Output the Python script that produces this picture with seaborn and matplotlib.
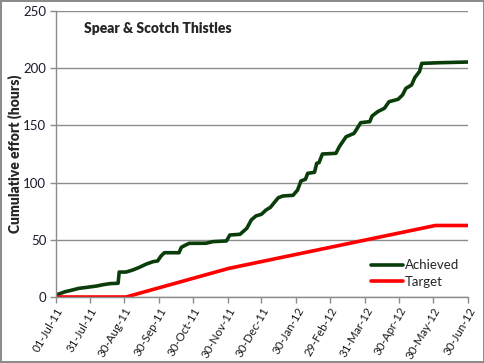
import matplotlib
matplotlib.use("Agg")
import matplotlib.pyplot as plt
import pandas as pd
import seaborn as sns

achieved_dates = ["2011-07-01", "2011-07-09", "2011-07-13", "2011-07-21", "2011-07-28",
                  "2011-08-06", "2011-08-12", "2011-08-18", "2011-08-25", "2011-08-26",
                  "2011-09-01", "2011-09-07", "2011-09-13", "2011-09-19", "2011-09-25",
                  "2011-09-29", "2011-10-02", "2011-10-05", "2011-10-18", "2011-10-20",
                  "2011-10-24", "2011-10-27", "2011-11-11", "2011-11-17", "2011-11-29",
                  "2011-12-02", "2011-12-11", "2011-12-17", "2011-12-21", "2011-12-25",
                  "2011-12-30", "2012-01-03", "2012-01-07", "2012-01-11", "2012-01-14",
                  "2012-01-18", "2012-01-27", "2012-01-31", "2012-02-03", "2012-02-07",
                  "2012-02-09", "2012-02-15", "2012-02-17", "2012-02-19", "2012-02-22",
                  "2012-03-05", "2012-03-08", "2012-03-14", "2012-03-21", "2012-03-27",
                  "2012-04-04", "2012-04-06", "2012-04-11", "2012-04-17", "2012-04-21",
                  "2012-04-29", "2012-05-03", "2012-05-06", "2012-05-11", "2012-05-14",
                  "2012-05-18", "2012-05-20", "2012-06-05", "2012-06-30"]
achieved_values = [1.7, 4.6, 5.5, 7.5, 8.4,
                   9.6, 10.8, 11.7, 12.0, 21.8,
                   21.8, 23.6, 26.0, 28.8, 30.9,
                   31.5, 35.8, 38.7, 38.7, 43.4,
                   45.5, 46.9, 47.0, 48.4, 49.0,
                   54.2, 54.8, 60.0, 67.3, 70.8,
                   72.3, 76.0, 78.4, 83.3, 86.8,
                   88.3, 88.9, 93.5, 101.4, 102.9,
                   108.1, 109.0, 116.9, 117.4, 125.0,
                   125.6, 131.4, 140.1, 143.0, 152.4,
                   153.3, 158.2, 162.0, 165.0, 170.7,
                   172.8, 176.6, 182.4, 185.3, 192.0,
                   197.0, 204.2, 204.8, 205.4]

target_dates = ["2011-07-01", "2011-09-01", "2011-12-01", "2012-06-01", "2012-06-30"]
target_values = [0, 0, 25, 62.5, 62.5]

tick_dates = ["2011-07-01", "2011-07-31", "2011-08-30", "2011-09-30", "2011-10-30",
              "2011-11-30", "2011-12-30", "2012-01-30", "2012-02-29", "2012-03-31",
              "2012-04-30", "2012-05-30", "2012-06-30"]
tick_labels = ["01-Jul-11", "31-Jul-11", "30-Aug-11", "30-Sep-11", "30-Oct-11",
               "30-Nov-11", "30-Dec-11", "30-Jan-12", "29-Feb-12", "31-Mar-12",
               "30-Apr-12", "30-May-12", "30-Jun-12"]

title = "Spear & Scotch Thistles"
y_label = "Cumulative effort (hours)"

sns.set_style("white")
plt.rcParams["font.family"] = ["Lato", "DejaVu Sans"]

df_a = pd.DataFrame({"date": pd.to_datetime(achieved_dates), "value": achieved_values,
                     "series": "Achieved"})
df_t = pd.DataFrame({"date": pd.to_datetime(target_dates), "value": target_values,
                     "series": "Target"})
df = pd.concat([df_a, df_t], ignore_index=True)

fig = plt.figure(figsize=(4.85, 3.63), dpi=100, edgecolor="#8c8c8c", linewidth=1.5)
ax = fig.add_axes([56 / 485, 1 - 297 / 363, 412 / 485, 286 / 363])

sns.lineplot(data=df, x="date", y="value", hue="series",
             palette={"Achieved": "#0b3d0b", "Target": "#ff0000"},
             linewidth=2.6, ax=ax, legend=True, estimator=None, sort=False)

ax.set_xlim(pd.Timestamp("2011-07-01"), pd.Timestamp("2012-06-30"))
ax.set_ylim(0, 250)
ax.set_yticks([0, 50, 100, 150, 200, 250])
ax.yaxis.grid(True, color="#8c8c8c", linewidth=1)
ax.xaxis.grid(False)
ax.set_axisbelow(True)

ax.set_xticks(pd.to_datetime(tick_dates))
ax.set_xticklabels(tick_labels, rotation=60, ha="right", rotation_mode="anchor",
                   fontsize=8.3, color="#1a1a1a")
ax.tick_params(axis="x", length=4, width=1, color="#8c8c8c", bottom=True, pad=2)
ax.tick_params(axis="y", length=4, width=1, color="#8c8c8c", left=True, labelsize=9.5,
               labelcolor="#1a1a2e", pad=3)

for s in ["top", "right"]:
    ax.spines[s].set_visible(False)
for s in ["left", "bottom"]:
    ax.spines[s].set_color("#8c8c8c")
    ax.spines[s].set_linewidth(1)

ax.set_xlabel("")
ax.set_ylabel(y_label, fontsize=10, fontweight="heavy")
ax.yaxis.set_label_coords(-0.083, 0.5)
ax.text(0.068, 0.94, title, transform=ax.transAxes, fontsize=10, fontweight="heavy",
        va="center", ha="left")

leg = ax.legend(loc="lower right", bbox_to_anchor=(1.0, 0.0), frameon=False,
                fontsize=9.5, handlelength=2.4, handletextpad=0.15, labelspacing=0.35,
                borderaxespad=0.3)

fig.savefig("out.png", dpi=100, edgecolor=fig.get_edgecolor())
